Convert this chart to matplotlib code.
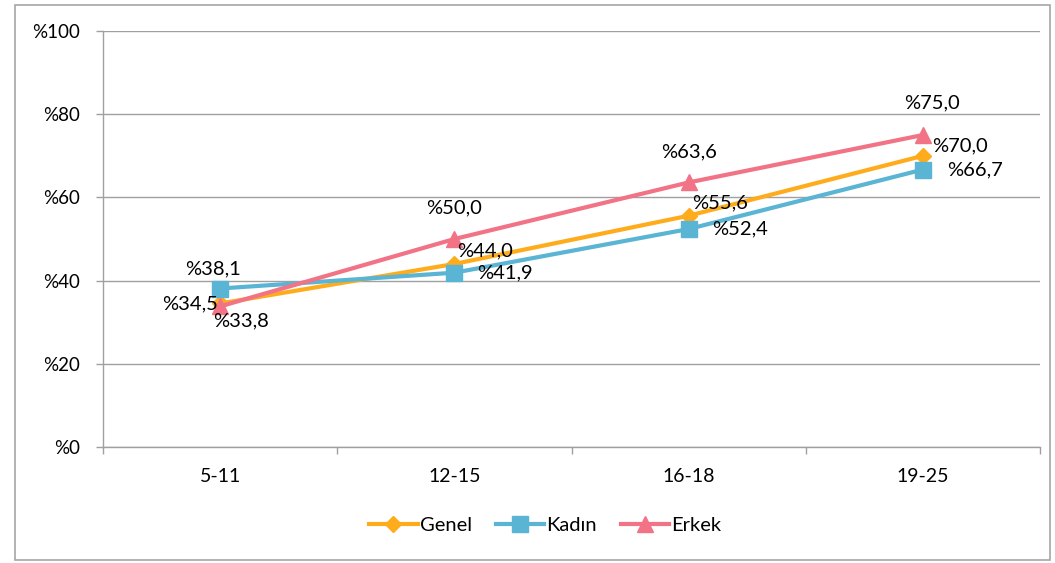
import matplotlib
matplotlib.use("Agg")
import matplotlib.pyplot as plt
from matplotlib.patches import Rectangle
import numpy as np

plt.rcParams['font.family'] = ['Lato', 'DejaVu Sans']

groups = ['5-11', '12-15', '16-18', '19-25']
genel = [34.5, 44.0, 55.6, 70.0]
kadin = [38.1, 41.9, 52.4, 66.7]
erkek = [33.8, 50.0, 63.6, 75.0]

# label offsets in pixels (dx, dy, ha) per point
genel_off = [(-2, 0, 'right'), (3, 13, 'left'), (3, 13, 'left'), (9, 10, 'left')]
kadin_off = [(-7, 20, 'center'), (23, 0, 'left'), (23, 0, 'left'), (24, 0, 'left')]
erkek_off = [(-7, -14, 'left'), (0, 31, 'center'), (0, 31, 'center'), (9, 32, 'center')]

c_genel = '#FFAC1C'
c_kadin = '#5AB4D4'
c_erkek = '#F27386'
grid_c = '#A0A0A0'

fig = plt.figure(figsize=(10.55, 5.63), dpi=100)
ax = fig.add_axes([0.0976, 0.206, 0.8884, 0.739])

x = np.arange(len(groups))
ax.plot(x, genel, color=c_genel, lw=3, marker='D', ms=8, label='Genel', zorder=3)
ax.plot(x, kadin, color=c_kadin, lw=3, marker='s', ms=11, label='Kadın', zorder=3)
ax.plot(x, erkek, color=c_erkek, lw=3, marker='^', ms=11, label='Erkek', zorder=4)

def fmt(v):
    return '%' + ('%.1f' % v).replace('.', ',')

px = 0.72
for vals, offs in [(genel, genel_off), (kadin, kadin_off), (erkek, erkek_off)]:
    for i, v in enumerate(vals):
        dx, dy, ha = offs[i]
        ax.annotate(fmt(v), (x[i], v), xytext=(dx * px, dy * px),
                    textcoords='offset points', ha=ha, va='center',
                    fontsize=14.5, color='black', zorder=5)

ax.set_xlim(-0.5, 3.5)
ax.set_ylim(0, 100)
ax.set_yticks(np.arange(0, 101, 20))
ax.set_yticklabels(['%' + str(v) for v in range(0, 101, 20)], fontsize=13.5)
ax.set_xticks(x)
ax.set_xticklabels(groups, fontsize=14)
ax.set_xticks(np.arange(-0.5, 4, 1), minor=True)
ax.tick_params(axis='x', which='major', length=0, pad=15)
ax.tick_params(axis='x', which='minor', length=5, color=grid_c, width=1)
ax.tick_params(axis='y', length=5, color=grid_c, width=1, pad=11.5)
ax.grid(axis='y', color=grid_c, lw=1)
ax.set_axisbelow(True)
for s in ['top', 'right']:
    ax.spines[s].set_visible(False)
for s in ['left', 'bottom']:
    ax.spines[s].set_color(grid_c)
    ax.spines[s].set_linewidth(1)

fig.legend(loc='center', bbox_to_anchor=(0.517, 0.066), ncol=3, frameon=False,
           fontsize=14.5, handlelength=2.4, handletextpad=0.1, columnspacing=1.2)

fig.patches.append(Rectangle((15 / 1055, 3 / 563), 1035 / 1055, 555 / 563,
                             transform=fig.transFigure, fill=False,
                             edgecolor='#A6A6A6', lw=1.2))

fig.savefig('out.png', dpi=100)
